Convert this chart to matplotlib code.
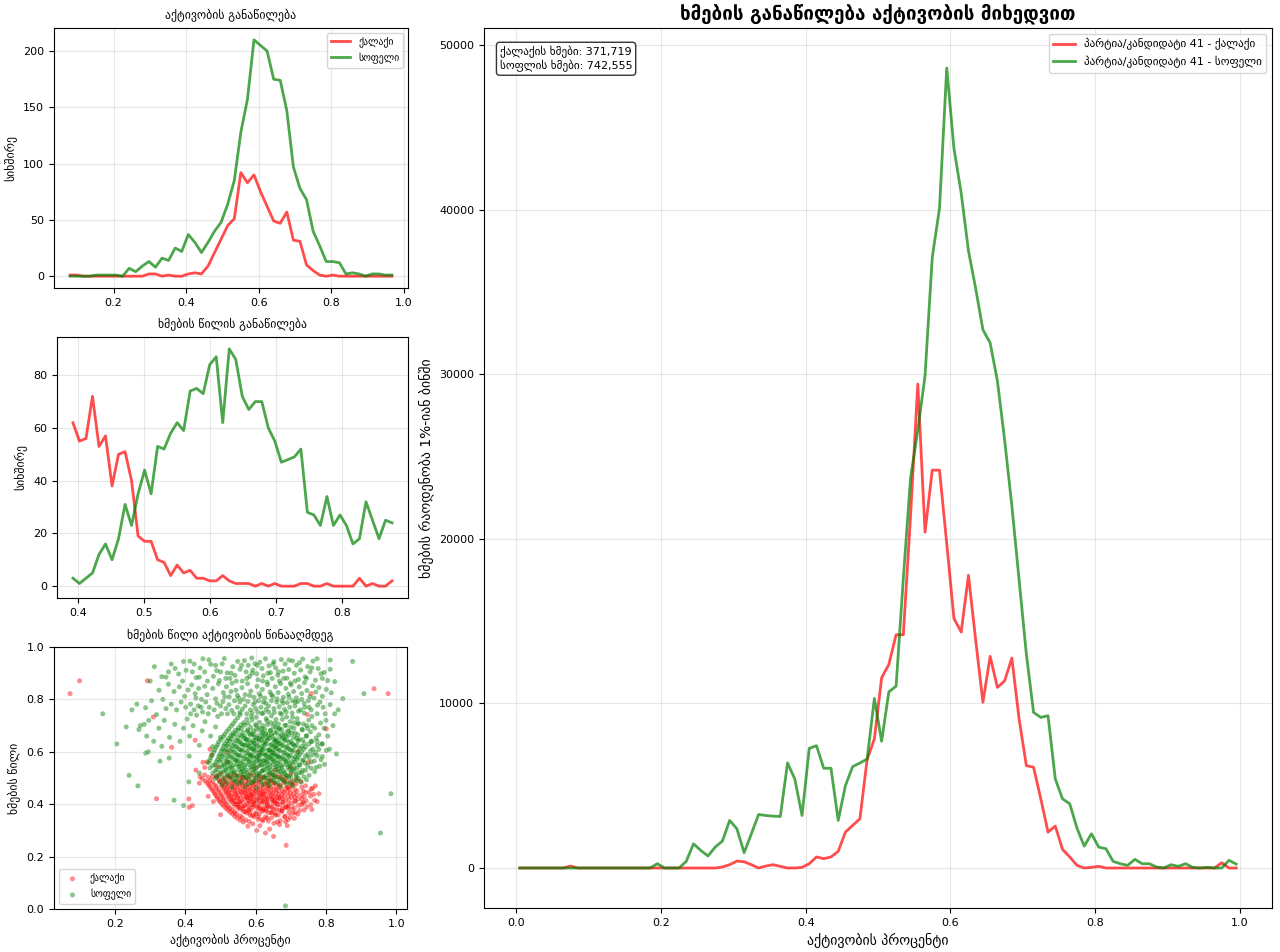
import numpy as np
import matplotlib
matplotlib.use("Agg")
import matplotlib.pyplot as plt

plt.rcParams['font.family'] = ['DejaVu Sans']

# ---------------- main chart: votes per 1% turnout bin ----------------
main_bin_lo, main_bin_hi, main_n_bins = 0.0, 1.0, 100
city_votes_per_bin = [
    0, 0, 0, 0, 0, 0, 0, 120, 0, 0,
    0, 0, 0, 0, 0, 0, 0, 0, 0, 0,
    0, 0, 0, 0, 0, 0, 0, 0, 60, 200,
    420, 380, 200, 0, 120, 200, 100, 0, 0, 40,
    260, 670, 570, 670, 1010, 2180, 2590, 2990, 6600, 7840,
    11550, 12370, 14170, 14170, 21400, 29400, 20400, 24170, 24170, 19700,
    15150, 14330, 17780, 13840, 10070, 12860, 10970, 11370, 12750, 9050,
    6220, 6120, 4200, 2180, 2545, 1130, 670, 160, 0, 40,
    100, 0, 0, 0, 0, 0, 0, 0, 0, 0,
    0, 0, 0, 0, 0, 0, 0, 320, 0, 0]
village_votes_per_bin = [
    0, 0, 0, 0, 0, 0, 0, 0, 0, 0,
    0, 0, 0, 0, 0, 0, 0, 0, 0, 260,
    0, 0, 0, 400, 1470, 1070, 730, 1270, 1640, 2890,
    2380, 930, 2080, 3250, 3190, 3150, 3130, 6380, 5410, 3190,
    7270, 7430, 6060, 6060, 2890, 5010, 6160, 6380, 6620, 10300,
    7700, 10700, 11050, 17600, 23700, 26600, 29900, 37100, 40080, 48600,
    43700, 41000, 37500, 35200, 32700, 31900, 29600, 26000, 22000, 17500,
    13000, 9450, 9150, 9250, 5410, 4200, 3900, 2420, 1330, 2080,
    1270, 1170, 400, 260, 160, 525, 260, 260, 60, 0,
    200, 100, 260, 40, 0, 40, 0, 0, 465, 240]
city_total_label = "371,719"
village_total_label = "742,555"

# ---------------- turnout histogram (counts of precincts) ----------------
turnout_hist_lo, turnout_hist_hi, turnout_n_bins = 0.071, 0.976, 50
city_turnout_counts = [
    1, 1, 0, 0, 0, 0, 0, 0, 0, 0,
    0, 0, 2, 2, 0, 1, 0, 0, 2, 3,
    2, 9, 21, 33, 45, 51, 92, 83, 90, 75,
    62, 49, 47, 57, 32, 31, 10, 5, 1, 0,
    1, 0, 0, 0, 0, 0, 0, 0, 0, 0]
village_turnout_counts = [
    0, 0, 0, 0, 1, 1, 1, 1, 0, 7,
    4, 9, 13, 8, 16, 14, 25, 22, 37, 30,
    21, 30, 40, 48, 64, 85, 128, 157, 210, 205,
    200, 175, 174, 147, 97, 78, 68, 40, 27, 13,
    13, 12, 2, 3, 2, 0, 2, 2, 1, 1]

# ---------------- vote share histogram ----------------
share_hist_lo, share_hist_hi, share_n_bins = 0.388, 0.880, 50
city_share_counts = [
    62, 55, 56, 72, 53, 57, 38, 50, 51, 40,
    19, 17, 17, 10, 9, 4, 8, 5, 6, 3,
    3, 2, 2, 4, 2, 1, 1, 1, 0, 1,
    0, 1, 0, 0, 0, 1, 1, 0, 0, 1,
    0, 0, 0, 0, 3, 0, 1, 0, 0, 2]
village_share_counts = [
    3, 1, 3, 5, 12, 16, 10, 18, 31, 23,
    35, 44, 35, 53, 52, 58, 62, 59, 74, 75,
    73, 84, 87, 62, 90, 86, 72, 67, 70, 70,
    60, 55, 47, 48, 49, 52, 28, 27, 23, 34,
    23, 27, 23, 16, 18, 32, 25, 18, 25, 24]

# ---------------- scatter: (turnout, share) in per-mille ----------------
city_points = [
    (72, 822), (99, 871), (292, 871), (309, 733), (758, 822), (937, 841), (977, 822),
    (747, 742), (801, 688), (361, 617), (428, 644), (318, 421), (411, 388), (687, 243),
    (651, 277), (640, 305), (690, 318), (475, 588), (450, 560), (462, 562), (442, 505),
    (440, 480), (410, 420), (420, 395), (430, 530), (455, 540), (490, 545), (520, 560),
    (470, 610), (520, 600), (600, 540), (655, 530), (700, 540), (720, 600), (750, 560),
    (770, 470), (780, 440), (775, 410), (760, 380), (500, 360), (480, 410), (465, 430),
    (560, 445), (575, 425), (590, 435), (605, 415), (620, 440), (635, 420), (650, 405),
    (580, 395), (600, 450), (630, 380), (550, 400), (665, 425),
    (455, 512), (478, 505), (500, 516), (520, 507), (540, 513), (562, 504), (585, 515),
    (610, 508), (640, 512), (672, 506), (700, 514),
    (448, 497), (470, 490), (490, 501), (508, 492), (526, 498), (545, 488), (563, 503),
    (582, 494), (600, 489), (620, 500), (642, 493), (665, 504), (690, 487), (715, 496),
    (462, 482), (482, 475), (498, 486), (514, 477), (530, 483), (546, 472), (561, 488),
    (577, 479), (593, 474), (609, 485), (625, 478), (642, 490), (660, 473), (680, 482),
    (702, 476), (728, 487),
    (470, 467), (488, 460), (503, 471), (518, 462), (533, 468), (548, 457), (562, 473),
    (577, 464), (591, 459), (606, 470), (621, 463), (636, 475), (652, 458), (668, 467),
    (686, 461), (706, 472), (731, 465), (758, 458),
    (478, 452), (495, 445), (509, 456), (523, 447), (537, 453), (551, 442), (565, 458),
    (579, 449), (593, 444), (607, 455), (621, 448), (635, 460), (650, 443), (665, 452),
    (681, 446), (698, 457), (718, 450), (742, 444),
    (485, 437), (502, 430), (516, 441), (530, 432), (543, 438), (556, 427), (570, 443),
    (583, 434), (596, 429), (610, 440), (623, 433), (637, 445), (651, 428), (666, 437),
    (682, 431), (699, 442), (717, 435), (738, 428), (765, 438),
    (492, 422), (508, 415), (522, 426), (535, 417), (548, 423), (561, 412), (574, 428),
    (587, 419), (600, 414), (613, 425), (626, 418), (640, 430), (654, 413), (669, 422),
    (685, 416), (702, 427), (721, 420), (744, 413),
    (500, 407), (516, 400), (530, 411), (543, 402), (556, 408), (569, 397), (582, 413),
    (595, 404), (608, 399), (621, 410), (634, 403), (648, 415), (662, 398), (677, 407),
    (693, 401), (711, 412), (733, 405), (757, 398),
    (510, 392), (527, 385), (541, 396), (555, 387), (568, 393), (581, 382), (594, 398),
    (607, 389), (620, 384), (633, 395), (647, 388), (661, 400), (676, 383), (692, 392),
    (710, 386), (731, 397),
    (522, 377), (540, 370), (556, 381), (571, 372), (586, 378), (600, 367), (614, 383),
    (629, 374), (644, 369), (659, 380), (675, 373), (692, 385), (713, 368), (738, 378),
    (535, 362), (556, 355), (574, 366), (592, 357), (610, 363), (628, 352), (646, 368),
    (664, 359), (684, 354), (706, 365),
    (548, 347), (572, 340), (596, 351), (620, 342), (645, 348), (670, 337), (698, 350),
    (565, 332), (592, 325), (620, 336), (652, 327), (685, 334),
    (466, 503), (489, 508), (511, 500), (531, 506), (551, 510), (573, 501), (597, 507),
    (624, 503), (655, 509), (685, 501),
    (456, 489), (477, 484), (497, 492), (516, 486), (535, 482), (554, 493), (572, 487),
    (590, 483), (610, 494), (631, 486), (653, 482), (677, 493), (702, 485),
    (466, 474), (488, 469), (506, 477), (522, 471), (538, 467), (554, 478), (569, 472),
    (585, 468), (601, 479), (617, 471), (633, 467), (650, 478), (670, 472), (691, 466),
    (715, 477), (742, 470),
    (474, 459), (495, 454), (511, 462), (526, 456), (541, 452), (555, 463), (570, 457),
    (584, 453), (599, 464), (614, 456), (628, 452), (643, 463), (659, 457), (676, 451),
    (693, 462), (712, 456), (736, 450), (762, 461),
    (482, 444), (502, 439), (516, 447), (530, 441), (544, 437), (558, 448), (572, 442),
    (586, 438), (600, 449), (614, 441), (628, 437), (643, 448), (658, 442), (674, 436),
    (690, 447), (708, 441), (730, 435), (752, 446),
    (489, 429), (508, 424), (523, 432), (537, 426), (550, 422), (564, 433), (577, 427),
    (590, 423), (604, 434), (617, 426), (631, 422), (645, 433), (660, 427), (676, 421),
    (693, 432), (711, 426), (731, 420), (756, 431),
    (496, 414), (514, 409), (528, 417), (541, 411), (554, 407), (567, 418), (580, 412),
    (593, 408), (606, 419), (619, 411), (633, 407), (647, 418), (662, 412), (678, 406),
    (695, 417), (714, 411), (737, 405), (768, 415),
    (505, 399), (522, 394), (537, 402), (550, 396), (563, 392), (576, 403), (589, 397),
    (602, 393), (615, 404), (628, 396), (642, 392), (656, 403), (670, 397), (686, 391),
    (703, 402), (722, 396), (746, 390),
    (516, 384), (534, 379), (549, 387), (564, 381), (579, 377), (593, 388), (607, 382),
    (621, 378), (636, 389), (651, 381), (667, 377), (684, 388), (703, 382), (725, 376),
    (528, 369), (546, 364), (565, 372), (583, 366), (601, 362), (619, 373), (637, 367),
    (655, 363), (674, 374), (695, 368), (720, 362),
    (541, 354), (562, 349), (585, 357), (608, 351), (632, 347), (657, 358), (682, 352),
    (710, 346),
    (556, 339), (582, 334), (608, 342), (636, 336), (662, 332), (692, 341),
    (578, 316), (612, 318), (668, 322), (603, 300), (628, 290)]

village_points = [
    (312, 925), (333, 887), (352, 905), (371, 918), (381, 897), (392, 870), (402, 911),
    (413, 946), (420, 905), (431, 883), (442, 920), (455, 905), (467, 951), (472, 934),
    (480, 888), (489, 910), (497, 872), (505, 936), (511, 956), (519, 901), (527, 880),
    (535, 925), (541, 892), (549, 945), (556, 915), (562, 870), (568, 948), (573, 905),
    (579, 930), (583, 888), (589, 958), (592, 912), (598, 936), (603, 898), (607, 875),
    (612, 942), (618, 918), (622, 890), (628, 955), (633, 866), (638, 928), (642, 902),
    (647, 880), (652, 944), (657, 920), (663, 892), (668, 870), (673, 952), (678, 908),
    (684, 935), (689, 881), (694, 914), (699, 862), (705, 947), (710, 900), (716, 930),
    (722, 876), (728, 912), (734, 954), (741, 886), (748, 925), (755, 905), (763, 946),
    (770, 873), (778, 918), (786, 898), (795, 903), (805, 872), (812, 915), (825, 868),
    (848, 803), (876, 945), (908, 822), (455, 850), (462, 818), (478, 842), (486, 802),
    (494, 860), (508, 826), (517, 848), (525, 810), (533, 862), (544, 835), (552, 805),
    (561, 845), (570, 818), (577, 860), (586, 832), (595, 808), (604, 850), (611, 822),
    (619, 838), (626, 805), (634, 856), (641, 828), (649, 812), (656, 848), (664, 826),
    (671, 860), (679, 808), (686, 842), (693, 820), (701, 855), (708, 830), (716, 806),
    (724, 848), (731, 822), (739, 864), (746, 834), (754, 810), (762, 852), (771, 828),
    (780, 845), (790, 812), (801, 838), (815, 825), (352, 858), (368, 830), (383, 848),
    (398, 812), (408, 836), (418, 855), (428, 822), (438, 842), (446, 800), (336, 800),
    (345, 765), (360, 782), (375, 760), (388, 790), (401, 770), (415, 782), (425, 760),
    (437, 775), (449, 752), (296, 720), (287, 768), (304, 795), (318, 742), (262, 782),
    (248, 760), (272, 700), (283, 705), (165, 745), (205, 630), (240, 510), (265, 470),
    (290, 660), (295, 600), (310, 640), (325, 690), (340, 720), (355, 655), (370, 705),
    (385, 640), (395, 690), (405, 725), (412, 660), (422, 700), (432, 740), (440, 625),
    (448, 680), (456, 715), (465, 745), (472, 660), (478, 620), (486, 695), (492, 735),
    (500, 655), (368, 415), (395, 395), (410, 485), (985, 440), (955, 290), (685, 12),
    (830, 592), (805, 660), (798, 745), (785, 710), (776, 778), (768, 690), (760, 735),
    (752, 770), (745, 700), (738, 785), (728, 760), (720, 792), (712, 775), (705, 795),
    (697, 770), (690, 788), (682, 762), (675, 795), (667, 772), (660, 790), (652, 765),
    (645, 795), (637, 775), (630, 762), (622, 790), (615, 770), (608, 795), (600, 765),
    (593, 780), (585, 760), (578, 792), (570, 775), (562, 762), (555, 790), (548, 770),
    (540, 795), (532, 758), (524, 780), (515, 765), (507, 792), (500, 775),
    (232, 695), (268, 685), (287, 595), (328, 564), (333, 621), (354, 576), (411, 583),
    (440, 519),
    (415, 745), (430, 805), (445, 770), (458, 790), (468, 770), (482, 760), (490, 785),
    (503, 745), (512, 810), (520, 745), (530, 830), (538, 745), (548, 815), (555, 750),
    (565, 800), (575, 745), (583, 815), (590, 748), (598, 790), (606, 752), (614, 812),
    (622, 748), (629, 785), (637, 752), (645, 818), (653, 750), (661, 802), (670, 748),
    (678, 785), (687, 752), (695, 808), (704, 748), (713, 790), (722, 755), (731, 800),
    (740, 770), (750, 795), (758, 760), (766, 805), (775, 745), (783, 790), (792, 770),
    (800, 720), (812, 780), (820, 700), (825, 745), (835, 760), (300, 870), (325, 835),
    (345, 885), (360, 935), (395, 945), (425, 935), (440, 885), (450, 955), (463, 870),
    (486, 930), (500, 905), (515, 880), (530, 900), (545, 870), (560, 930), (575, 880),
    (590, 900), (605, 930), (620, 870), (635, 900), (650, 935), (665, 905), (680, 880),
    (695, 950), (712, 870), (725, 940), (745, 880), (760, 920), (775, 955), (790, 880),
    (812, 950), (780, 665), (790, 630), (810, 610), (795, 690), (775, 640), (760, 700),
    (505, 472), (532, 465), (548, 478), (571, 468), (590, 481), (603, 462), (622, 475),
    (640, 470), (655, 483), (672, 466), (688, 477), (705, 470), (730, 484),
    (485, 498), (512, 490), (527, 503), (541, 494), (556, 489), (566, 501), (579, 496),
    (592, 488), (604, 505), (615, 493), (628, 499), (641, 487), (653, 502), (667, 495),
    (680, 491), (694, 504), (709, 489), (722, 498), (745, 493),
    (478, 518), (495, 511), (508, 522), (521, 513), (534, 519), (546, 508), (558, 524),
    (569, 515), (581, 510), (593, 521), (605, 514), (617, 526), (629, 509), (640, 518),
    (652, 512), (664, 523), (676, 516), (689, 508), (701, 521), (715, 513), (731, 519),
    (752, 510),
    (470, 538), (490, 531), (503, 542), (515, 533), (527, 539), (539, 528), (551, 544),
    (562, 535), (574, 530), (586, 541), (598, 534), (609, 546), (621, 529), (633, 538),
    (645, 532), (657, 543), (668, 536), (680, 528), (692, 541), (705, 533), (718, 539),
    (733, 530), (758, 537), (782, 545),
    (465, 558), (484, 551), (498, 562), (511, 553), (523, 559), (535, 548), (547, 564),
    (558, 555), (570, 550), (582, 561), (594, 554), (605, 566), (617, 549), (628, 558),
    (640, 552), (652, 563), (663, 556), (675, 548), (687, 561), (699, 553), (712, 559),
    (726, 550), (741, 557), (767, 565), (796, 552),
    (472, 578), (492, 571), (505, 582), (517, 573), (530, 579), (542, 568), (553, 584),
    (565, 575), (577, 570), (589, 581), (600, 574), (612, 586), (624, 569), (636, 578),
    (647, 572), (659, 583), (671, 576), (683, 568), (695, 581), (708, 573), (721, 579),
    (736, 570), (752, 577), (775, 585),
    (480, 598), (498, 591), (512, 602), (524, 593), (536, 599), (548, 588), (560, 604),
    (572, 595), (584, 590), (596, 601), (608, 594), (619, 606), (631, 589), (643, 598),
    (655, 592), (667, 603), (679, 596), (691, 588), (704, 601), (717, 593), (731, 599),
    (748, 590), (770, 597), (801, 605),
    (488, 618), (505, 611), (519, 622), (531, 613), (543, 619), (555, 608), (567, 624),
    (579, 615), (591, 610), (603, 621), (614, 614), (626, 626), (638, 609), (650, 618),
    (662, 612), (674, 623), (686, 616), (698, 608), (711, 621), (725, 613), (742, 619),
    (763, 610),
    (495, 638), (512, 631), (526, 642), (538, 633), (550, 639), (562, 628), (574, 644),
    (586, 635), (598, 630), (610, 641), (622, 634), (634, 646), (646, 629), (658, 638),
    (670, 632), (682, 643), (694, 636), (707, 628), (721, 641), (738, 633), (760, 639),
    (788, 630),
    (508, 658), (523, 651), (536, 662), (549, 653), (561, 659), (573, 648), (585, 664),
    (597, 655), (609, 650), (621, 661), (633, 654), (645, 666), (657, 649), (669, 658),
    (681, 652), (694, 663), (708, 656), (724, 648), (745, 661), (772, 653),
    (518, 678), (535, 671), (550, 682), (564, 673), (577, 679), (590, 668), (603, 684),
    (616, 675), (629, 670), (642, 681), (655, 674), (668, 686), (681, 669), (695, 678),
    (712, 672), (733, 683), (756, 676),
    (530, 698), (551, 691), (569, 702), (586, 693), (602, 699), (618, 688), (634, 704),
    (650, 695), (666, 690), (683, 701), (700, 694), (720, 706), (748, 689),
    (542, 718), (566, 711), (590, 722), (611, 713), (632, 719), (654, 708), (676, 724),
    (698, 715), (722, 710), (751, 721),
    (556, 742), (588, 735), (617, 746), (645, 737), (674, 743), (705, 732), (738, 748),
    (585, 585), (605, 582), (625, 592), (645, 585), (665, 580), (595, 615), (615, 600),
    (640, 605), (660, 625), (600, 645), (620, 655), (655, 640), (578, 628), (632, 570),
    (612, 563), (650, 598),
    (498, 486), (520, 480), (540, 487), (560, 482), (580, 478), (598, 490), (616, 484),
    (634, 481), (650, 491), (664, 479), (682, 486), (698, 482), (718, 490),
    (490, 507), (506, 503), (519, 509), (533, 500), (548, 506), (561, 512), (573, 503),
    (587, 508), (599, 500), (610, 511), (622, 505), (635, 499), (647, 510), (660, 504),
    (673, 498), (687, 510), (700, 502), (716, 507), (738, 504),
    (485, 527), (501, 522), (514, 529), (528, 524), (540, 520), (552, 531), (564, 526),
    (576, 521), (588, 532), (599, 525), (611, 519), (623, 530), (635, 524), (646, 519),
    (658, 531), (670, 525), (683, 520), (696, 532), (710, 526), (724, 521), (742, 529),
    (768, 524),
    (478, 547), (496, 542), (509, 549), (521, 544), (533, 540), (545, 551), (556, 546),
    (568, 541), (580, 552), (592, 545), (603, 540), (615, 551), (627, 545), (639, 540),
    (650, 551), (662, 546), (674, 541), (686, 552), (697, 546), (710, 540), (724, 550),
    (748, 545), (772, 540),
    (470, 566), (488, 562), (503, 569), (517, 564), (529, 560), (541, 571), (552, 566),
    (564, 561), (576, 572), (588, 565), (599, 560), (611, 571), (622, 565), (634, 560),
    (646, 571), (657, 566), (669, 561), (681, 572), (693, 566), (705, 560), (718, 571),
    (733, 565), (758, 561), (786, 570),
    (476, 587), (495, 582), (509, 589), (521, 584), (533, 580), (545, 591), (557, 586),
    (569, 581), (581, 592), (593, 585), (604, 580), (616, 591), (628, 586), (640, 581),
    (651, 592), (663, 585), (675, 580), (687, 591), (699, 586), (712, 580), (726, 590),
    (742, 584), (762, 589), (790, 582),
    (484, 607), (502, 602), (516, 609), (528, 604), (540, 600), (552, 611), (564, 606),
    (576, 601), (588, 612), (600, 605), (611, 600), (623, 611), (635, 606), (647, 601),
    (658, 612), (670, 605), (682, 600), (694, 611), (707, 606), (721, 600), (737, 610),
    (756, 604), (780, 609),
    (492, 627), (509, 622), (522, 629), (534, 624), (546, 620), (558, 631), (570, 626),
    (582, 621), (594, 632), (606, 625), (618, 620), (630, 631), (642, 626), (654, 621),
    (666, 632), (678, 625), (690, 620), (703, 631), (716, 626), (731, 620), (752, 630),
    (776, 624),
    (502, 647), (518, 642), (531, 649), (544, 644), (556, 640), (568, 651), (580, 646),
    (592, 641), (604, 652), (616, 645), (628, 640), (640, 651), (652, 646), (664, 641),
    (676, 652), (688, 645), (701, 640), (716, 651), (734, 646), (758, 641),
    (512, 667), (529, 662), (543, 669), (556, 664), (569, 660), (582, 671), (595, 666),
    (608, 661), (621, 672), (634, 665), (647, 660), (660, 671), (673, 666), (687, 661),
    (702, 672), (720, 665), (744, 660),
    (524, 687), (542, 682), (560, 689), (577, 684), (594, 680), (610, 691), (626, 686),
    (642, 681), (658, 692), (674, 685), (691, 680), (709, 691), (732, 686),
    (536, 707), (558, 702), (579, 709), (600, 704), (621, 700), (643, 711), (665, 706),
    (687, 701), (710, 711), (736, 706),
    (549, 730), (575, 725), (602, 732), (630, 727), (658, 723), (688, 733), (718, 727)]

# ---------------- labels ----------------
label_city = "ქალაქი"
label_village = "სოფელი"
party_label = "პარტია/კანდიდატი 41"

RED = 'red'
GREEN = 'green'

W, H = 1280, 952
fig = plt.figure(figsize=(W / 100, H / 100), dpi=100)


def box(l, t, r, b):
    return [l / W, 1 - b / H, (r - l) / W, (b - t) / H]


ax1 = fig.add_axes(box(54, 28, 408, 288))
ax2 = fig.add_axes(box(57, 337, 408, 598))
ax3 = fig.add_axes(box(54, 647, 407, 909))
axm = fig.add_axes(box(484, 28, 1272, 908))


def centers(lo, hi, n):
    edges = np.linspace(lo, hi, n + 1)
    return (edges[:-1] + edges[1:]) / 2


small_fs = 8.5
tick_fs = 8

# turnout histogram
tc = centers(turnout_hist_lo, turnout_hist_hi, turnout_n_bins)
ax1.plot(tc, city_turnout_counts, color=RED, alpha=0.7, lw=2, label=label_city)
ax1.plot(tc, village_turnout_counts, color=GREEN, alpha=0.7, lw=2, label=label_village)
ax1.set_title("აქტივობის განაწილება", fontsize=small_fs)
ax1.set_ylabel("სიხშირე", fontsize=small_fs)
ax1.legend(fontsize=7, loc='upper right')
ax1.grid(True, alpha=0.3)
ax1.tick_params(labelsize=tick_fs)
ax1.set_xticks([0.2, 0.4, 0.6, 0.8, 1.0])

# share histogram
sc = centers(share_hist_lo, share_hist_hi, share_n_bins)
ax2.plot(sc, city_share_counts, color=RED, alpha=0.7, lw=2)
ax2.plot(sc, village_share_counts, color=GREEN, alpha=0.7, lw=2)
ax2.set_title("ხმების წილის განაწილება", fontsize=small_fs)
ax2.set_ylabel("სიხშირე", fontsize=small_fs)
ax2.grid(True, alpha=0.3)
ax2.tick_params(labelsize=tick_fs)

# scatter
cx = [p[0] / 1000 for p in city_points]
cy = [p[1] / 1000 for p in city_points]
vx = [p[0] / 1000 for p in village_points]
vy = [p[1] / 1000 for p in village_points]
ax3.scatter(cx, cy, color=RED, alpha=0.45, s=13, edgecolors='none', label=label_city)
ax3.scatter(vx, vy, color=GREEN, alpha=0.45, s=13, edgecolors='none', label=label_village)
ax3.set_ylim(0, 1)
ax3.set_title("ხმების წილი აქტივობის წინააღმდეგ", fontsize=small_fs)
ax3.set_xlabel("აქტივობის პროცენტი", fontsize=small_fs)
ax3.set_ylabel("ხმების წილი", fontsize=small_fs)
ax3.legend(fontsize=7, loc='lower left')
ax3.grid(True, alpha=0.3)
ax3.tick_params(labelsize=tick_fs)

# main
mc = centers(main_bin_lo, main_bin_hi, main_n_bins)
axm.plot(mc, city_votes_per_bin, color=RED, alpha=0.7, lw=2,
         label=f"{party_label} - {label_city}")
axm.plot(mc, village_votes_per_bin, color=GREEN, alpha=0.7, lw=2,
         label=f"{party_label} - {label_village}")
axm.set_title("ხმების განაწილება აქტივობის მიხედვით", fontsize=13.5, fontweight='bold')
axm.set_xlabel("აქტივობის პროცენტი", fontsize=10)
axm.set_ylabel("ხმების რაოდენობა 1%-იან ბინში", fontsize=10)
axm.legend(fontsize=8, loc='upper right')
axm.grid(True, alpha=0.3)
axm.tick_params(labelsize=tick_fs)
axm.text(0.02, 0.98,
         f"ქალაქის ხმები: {city_total_label}\nსოფლის ხმები: {village_total_label}",
         transform=axm.transAxes, va='top', ha='left', fontsize=8,
         bbox=dict(boxstyle='round', facecolor='white', alpha=0.8))

fig.savefig("out.png", dpi=100)
